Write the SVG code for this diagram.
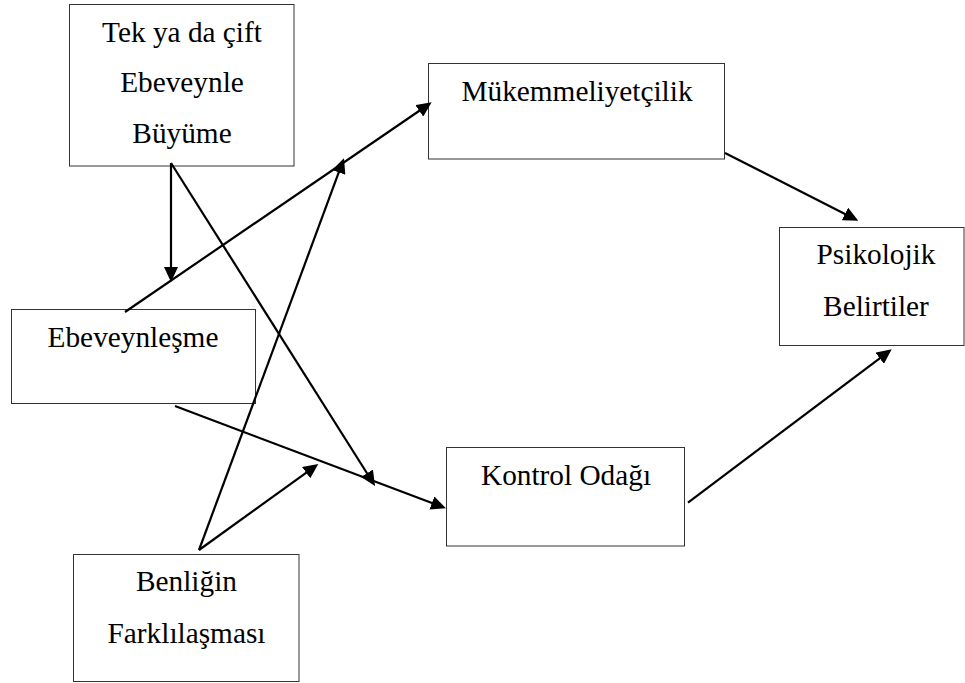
<svg xmlns="http://www.w3.org/2000/svg" width="965" height="683" viewBox="0 0 965 683">
<defs>
<style>
.box{fill:#fff;stroke:#333;stroke-width:1}
.lbl{font-size:29.3px;fill:#000;text-anchor:middle}
.conn line{stroke:#000;stroke-width:2.2;fill:none;marker-end:url(#ah)}
</style>
<marker id="ah" markerUnits="userSpaceOnUse" markerWidth="15" markerHeight="14" refX="5" refY="7" orient="auto">
<path d="M0,0 L15,7 L0,14 z" fill="#000"/>
</marker>
</defs>
<rect width="965" height="683" fill="#fff"/>
<g font-family="Liberation Serif, Times New Roman, Tinos, serif">
<g id="n-tek">
<rect class="box" x="69.5" y="4.5" width="224.5" height="161.5"/>
<text class="lbl" x="182" y="42">Tek ya da çift</text>
<text class="lbl" x="182" y="92">Ebeveynle</text>
<text class="lbl" x="182" y="143">Büyüme</text>
</g>
<g id="n-mukemmel">
<rect class="box" x="428.5" y="63.5" width="296" height="95.5"/>
<text class="lbl" x="577" y="100.5">Mükemmeliyetçilik</text>
</g>
<g id="n-psikolojik">
<rect class="box" x="779.5" y="227.5" width="184.5" height="118"/>
<text class="lbl" x="876" y="264">Psikolojik</text>
<text class="lbl" x="876" y="316">Belirtiler</text>
</g>
<g id="n-ebeveynlesme">
<rect class="box" x="11.5" y="309.5" width="244" height="94"/>
<text class="lbl" x="133" y="347">Ebeveynleşme</text>
</g>
<g id="n-kontrol">
<rect class="box" x="446.5" y="447.5" width="238" height="98.5"/>
<text class="lbl" x="566" y="485">Kontrol Odağı</text>
</g>
<g id="n-benlik">
<rect class="box" x="73.5" y="554.5" width="225.5" height="127"/>
<text class="lbl" x="186.5" y="591">Benliğin</text>
<text class="lbl" x="186.5" y="643">Farklılaşması</text>
</g>
</g>
<g id="connectors" class="conn">
<line x1="171" y1="163" x2="171" y2="272"/>
<line x1="171" y1="163" x2="369.7" y2="477.5"/>
<line x1="125" y1="312" x2="423.4" y2="108"/>
<line x1="199" y1="550" x2="340.5" y2="167.7"/>
<line x1="199" y1="550" x2="310.2" y2="469.8"/>
<line x1="175" y1="406" x2="436.6" y2="504.8"/>
<line x1="725" y1="153" x2="849.4" y2="216.2"/>
<line x1="688" y1="502.7" x2="883.7" y2="355.3"/>
</g>
</svg>
